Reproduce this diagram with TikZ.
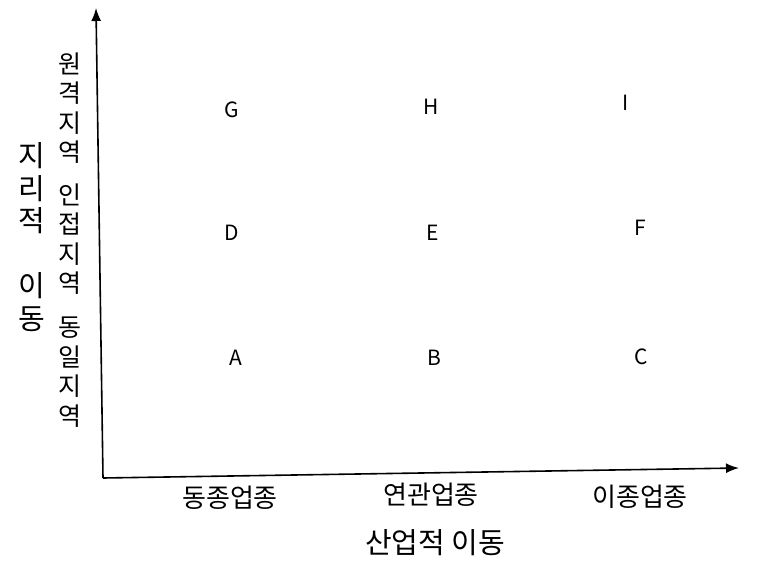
\documentclass[tikz,border=0pt]{standalone}
\usepackage{fontspec}
\setmainfont{Noto Sans CJK KR}
\usetikzlibrary{arrows.meta}

\begin{document}
\begin{tikzpicture}[x=1pt,y=-1pt,
    axis/.style={line width=1.6pt, -{Latex[length=13pt,width=10pt]}},
    cell/.style={font=\fontsize{21}{24}\selectfont, inner sep=0pt},
    cat/.style={font=\fontsize{26}{30}\selectfont, inner sep=0pt},
    zone/.style={font=\fontsize{25}{29.5}\selectfont, align=center, inner sep=0pt},
    title/.style={font=\fontsize{29}{32.5}\selectfont, align=center, inner sep=0pt}]
    \useasboundingbox (0,0) rectangle (776,575);

    % axes
    \coordinate (origin) at (103,478);
    \coordinate (ytip) at (96,8);
    \coordinate (xtip) at (739,468);
    \draw[axis] (origin) -- (ytip);
    \draw[axis] (origin) -- (xtip);

    % cells
    \node[cell] (G) at (232,110) {G};
    \node[cell] (H) at (431,107) {H};
    \node[cell] (I) at (626,103) {I};
    \node[cell] (D) at (232,233) {D};
    \node[cell] (E) at (433,233) {E};
    \node[cell] (F) at (640,228) {F};
    \node[cell] (A) at (236,358) {A};
    \node[cell] (B) at (434,358) {B};
    \node[cell] (C) at (641,357) {C};

    % industry categories
    \node[cat] (same) at (230,498) {동종업종};
    \node[cat] (related) at (431,495) {연관업종};
    \node[cat] (other) at (640,497) {이종업종};
    \node[title] (xlabel) at (435,543) {산업적 이동};

    % regions
    \node[zone] (far) at (70,108) {원\\격\\지\\역};
    \node[zone] (near) at (70,239) {인\\접\\지\\역};
    \node[zone] (local) at (70,372) {동\\일\\지\\역};
    \node[title] (ylabel) at (32,237) {지\\리\\적\\[32.5pt]이\\동};
\end{tikzpicture}
\end{document}
